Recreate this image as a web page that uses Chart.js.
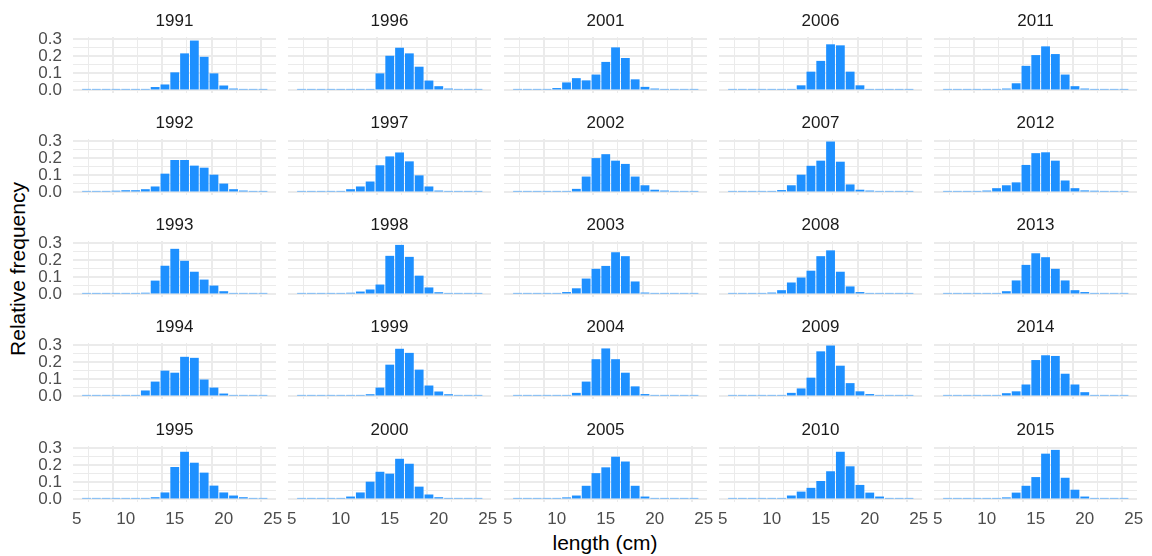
<!DOCTYPE html>
<html>
<head>
<meta charset="utf-8">
<script src="https://cdn.jsdelivr.net/npm/chart.js@4.4.1/dist/chart.umd.min.js"></script>
<style>
  html, body { margin: 0; padding: 0; background: #ffffff; }
  body { width: 1152px; height: 556px; position: relative; overflow: hidden; font-family: 'Liberation Sans', Arial, sans-serif; }
  canvas { position: absolute; }
  .axtitle { position: absolute; font-size: 21px; color: #000; white-space: nowrap; }
</style>
</head>
<body>
<div class="axtitle" id="ylab">Relative frequency</div>
<div class="axtitle" id="xlab">length (cm)</div>
<script>
// ---------- data ----------
const lengths = [6, 7, 8, 9, 10, 11, 12, 13, 14, 15, 16, 17, 18, 19, 20, 21, 22, 23, 24];
const years = [1991, 1992, 1993, 1994, 1995, 1996, 1997, 1998, 1999, 2000,
               2001, 2002, 2003, 2004, 2005, 2006, 2007, 2008, 2009, 2010,
               2011, 2012, 2013, 2014, 2015];
const xTickValues = [5, 7.5, 10, 12.5, 15, 17.5, 20, 22.5, 25];
const yTickValues = [0, 0.05, 0.1, 0.15, 0.2, 0.25, 0.3];

const freq1991 = [0.009,0.009,0.009,0.009,0.009,0.009,0.009,0.020,0.035,0.106,0.217,0.292,0.197,0.100,0.029,0.011,0.009,0.009,0.009];
const freq1992 = [0.009,0.009,0.009,0.010,0.013,0.013,0.019,0.035,0.110,0.190,0.190,0.157,0.145,0.104,0.052,0.019,0.011,0.009,0.009];
const freq1993 = [0.009,0.009,0.009,0.009,0.009,0.009,0.010,0.081,0.168,0.267,0.197,0.133,0.087,0.052,0.019,0.009,0.009,0.009,0.009];
const freq1994 = [0.009,0.009,0.009,0.009,0.009,0.009,0.035,0.087,0.151,0.139,0.232,0.226,0.099,0.052,0.017,0.009,0.009,0.009,0.009];
const freq1995 = [0.009,0.009,0.009,0.009,0.009,0.009,0.009,0.013,0.041,0.190,0.279,0.215,0.157,0.081,0.041,0.023,0.013,0.009,0.009];
const freq1996 = [0.009,0.009,0.009,0.009,0.009,0.009,0.009,0.009,0.100,0.203,0.250,0.217,0.139,0.058,0.025,0.011,0.009,0.009,0.009];
const freq1997 = [0.009,0.009,0.009,0.009,0.009,0.019,0.035,0.064,0.159,0.211,0.234,0.182,0.100,0.035,0.011,0.009,0.009,0.009,0.009];
const freq1998 = [0.009,0.009,0.009,0.009,0.009,0.010,0.017,0.029,0.058,0.226,0.290,0.220,0.110,0.041,0.013,0.009,0.009,0.009,0.009];
const freq1999 = [0.009,0.009,0.009,0.009,0.009,0.009,0.009,0.013,0.052,0.186,0.279,0.255,0.157,0.064,0.029,0.013,0.009,0.009,0.009];
const freq2000 = [0.009,0.009,0.009,0.009,0.009,0.017,0.041,0.104,0.162,0.151,0.238,0.209,0.075,0.029,0.013,0.009,0.009,0.009,0.009];
const freq2001 = [0.009,0.009,0.009,0.009,0.014,0.047,0.072,0.059,0.093,0.167,0.252,0.190,0.065,0.021,0.011,0.009,0.009,0.009,0.009];
const freq2002 = [0.009,0.009,0.009,0.009,0.009,0.009,0.021,0.093,0.201,0.224,0.186,0.167,0.093,0.042,0.016,0.011,0.009,0.009,0.009];
const freq2003 = [0.009,0.009,0.009,0.009,0.009,0.014,0.036,0.093,0.150,0.167,0.247,0.224,0.076,0.011,0.009,0.009,0.009,0.009,0.009];
const freq2004 = [0.009,0.009,0.009,0.009,0.009,0.009,0.021,0.087,0.218,0.281,0.218,0.139,0.059,0.014,0.009,0.009,0.009,0.009,0.009];
const freq2005 = [0.009,0.009,0.009,0.009,0.009,0.012,0.023,0.080,0.154,0.188,0.250,0.222,0.080,0.017,0.009,0.009,0.009,0.009,0.009];
const freq2006 = [0.009,0.009,0.009,0.009,0.009,0.009,0.009,0.030,0.110,0.173,0.270,0.264,0.110,0.030,0.009,0.009,0.009,0.009,0.009];
const freq2007 = [0.009,0.009,0.009,0.009,0.009,0.014,0.042,0.104,0.156,0.186,0.298,0.180,0.047,0.016,0.011,0.009,0.009,0.009,0.009];
const freq2008 = [0.009,0.009,0.009,0.009,0.011,0.025,0.070,0.099,0.139,0.224,0.258,0.133,0.047,0.014,0.009,0.009,0.009,0.009,0.009];
const freq2009 = [0.009,0.009,0.009,0.009,0.009,0.009,0.021,0.047,0.110,0.264,0.298,0.180,0.078,0.030,0.014,0.009,0.009,0.009,0.009];
const freq2010 = [0.009,0.009,0.009,0.009,0.009,0.009,0.023,0.046,0.068,0.108,0.165,0.279,0.194,0.085,0.040,0.017,0.009,0.009,0.009];
const freq2011 = [0.009,0.009,0.009,0.009,0.009,0.009,0.011,0.042,0.144,0.207,0.258,0.213,0.093,0.025,0.011,0.009,0.009,0.009,0.009];
const freq2012 = [0.009,0.009,0.009,0.009,0.011,0.025,0.042,0.059,0.161,0.230,0.235,0.186,0.070,0.025,0.012,0.010,0.009,0.009,0.009];
const freq2013 = [0.009,0.009,0.009,0.009,0.009,0.009,0.019,0.082,0.173,0.241,0.218,0.150,0.082,0.025,0.014,0.009,0.009,0.009,0.009];
const freq2014 = [0.009,0.009,0.009,0.009,0.009,0.009,0.019,0.030,0.070,0.213,0.241,0.237,0.133,0.070,0.025,0.009,0.009,0.009,0.009];
const freq2015 = [0.009,0.009,0.009,0.009,0.009,0.009,0.012,0.040,0.080,0.131,0.268,0.290,0.127,0.057,0.017,0.009,0.009,0.009,0.009];

const seriesByYear = {
  1991: freq1991, 1992: freq1992, 1993: freq1993, 1994: freq1994, 1995: freq1995,
  1996: freq1996, 1997: freq1997, 1998: freq1998, 1999: freq1999, 2000: freq2000,
  2001: freq2001, 2002: freq2002, 2003: freq2003, 2004: freq2004, 2005: freq2005,
  2006: freq2006, 2007: freq2007, 2008: freq2008, 2009: freq2009, 2010: freq2010,
  2011: freq2011, 2012: freq2012, 2013: freq2013, 2014: freq2014, 2015: freq2015
};

// ---------- layout ----------
const FONT = "'Liberation Sans', Arial, sans-serif";
Chart.defaults.font.family = FONT;
const NCOL = 5, NROW = 5;
const panelLeft0 = 73, colStep = 215.25, panelW = 203;
const panelTop0 = 36.7, rowStep = 102.2, panelH = 56;
const leftBox = 60, topBox = 30, bottomBox = 30, rightPad = 14;

const ylab = document.getElementById('ylab');
ylab.style.left = '18px'; ylab.style.top = '269px';
ylab.style.transform = 'translate(-50%, -50%) rotate(-90deg)';
const xlab = document.getElementById('xlab');
xlab.style.left = '605px'; xlab.style.top = '543px';
xlab.style.transform = 'translate(-50%, -50%)';

const isMajorY = (v) => Math.abs(v * 10 - Math.round(v * 10)) < 1e-6;

for (let c = 0; c < NCOL; c++) {
  for (let r = 0; r < NROW; r++) {
    const year = years[c * NROW + r];
    const vals = seriesByYear[year];
    const pl = Math.round(panelLeft0 + c * colStep);
    const pt = Math.round(panelTop0 + r * rowStep);
    const cv = document.createElement('canvas');
    const W = leftBox + panelW + rightPad;
    const H = topBox + panelH + bottomBox;
    cv.width = W; cv.height = H;
    cv.style.width = W + 'px'; cv.style.height = H + 'px';
    cv.style.left = (pl - leftBox) + 'px';
    cv.style.top = (pt - topBox) + 'px';
    document.body.appendChild(cv);

    const showY = (c === 0), showX = (r === NROW - 1);

    new Chart(cv, {
      type: 'bar',
      data: {
        datasets: [{
          data: lengths.map((x, i) => ({ x: x, y: vals[i] })),
          backgroundColor: '#1E90FF',
          borderWidth: 0,
          barPercentage: 0.9,
          categoryPercentage: 1.0
        }]
      },
      options: {
        responsive: false,
        animation: false,
        devicePixelRatio: 1,
        layout: { padding: { left: 0, right: rightPad, top: 0, bottom: 0 } },
        plugins: {
          legend: { display: false },
          tooltip: { enabled: false },
          title: {
            display: true,
            fullSize: false,
            align: 'center',
            text: String(year),
            color: '#1A1A1A',
            font: { size: 17, family: FONT, weight: 'normal', lineHeight: 1.2 },
            padding: { top: 4, bottom: 5.6 }
          }
        },
        scales: {
          x: {
            type: 'linear',
            offset: false,
            min: 4.62,
            max: 25.33,
            afterBuildTicks: (s) => { s.ticks = xTickValues.map(v => ({ value: v })); },
            afterFit: (s) => { s.height = bottomBox; },
            border: { display: false },
            grid: {
              color: '#EBEBEB',
              drawTicks: false,
              lineWidth: (ctx) => (ctx.tick && ctx.tick.value % 5 === 0) ? 2 : 1
            },
            ticks: {
              display: showX,
              autoSkip: false,
              maxRotation: 0,
              padding: 7,
              color: '#4D4D4D',
              font: { size: 17, family: FONT },
              callback: (v) => (v % 5 === 0 ? String(v) : '')
            }
          },
          y: {
            type: 'linear',
            min: -0.0149,
            max: 0.3128,
            afterBuildTicks: (s) => { s.ticks = yTickValues.map(v => ({ value: v })); },
            afterFit: (s) => { s.width = leftBox; },
            border: { display: false },
            grid: {
              color: '#EBEBEB',
              drawTicks: false,
              lineWidth: (ctx) => (ctx.tick && isMajorY(ctx.tick.value)) ? 2 : 1
            },
            ticks: {
              display: showY,
              autoSkip: false,
              padding: 11,
              color: '#4D4D4D',
              font: { size: 17, family: FONT },
              callback: (v) => (isMajorY(v) ? v.toFixed(1) : '')
            }
          }
        }
      }
    });
  }
}
</script>
</body>
</html>
